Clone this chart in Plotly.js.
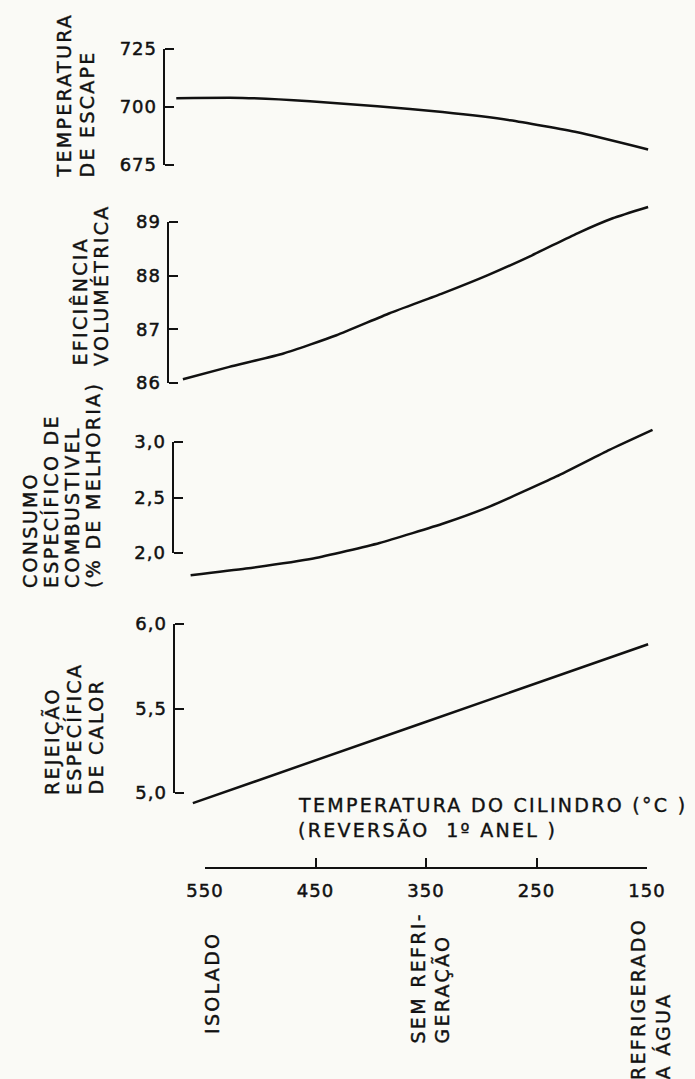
<!DOCTYPE html>
<html><head><meta charset="utf-8">
<script src="https://cdn.plot.ly/plotly-3.0.1.min.js"></script>
<style>
html,body{margin:0;padding:0;background:#fafaf6;}
.annotation-text{letter-spacing:2.3px;stroke:#111;stroke-width:0.4px;}
[class*="axislayer"] text{letter-spacing:1px;stroke:#111;stroke-width:0.5px;}
</style></head><body><div id="chart" style="width:695px;height:1079px;"></div>
<script>
// Temperatura do cilindro (°C) vs. each quantity
const tempEscapeT = [576, 516, 455, 394, 335, 274, 213, 149];
const tempEscapeV = [703.8, 703.9, 702.5, 700.3, 697.8, 694.3, 689.1, 681.7];
const eficT = [570, 528, 479, 431, 383, 335, 294, 254, 213, 181, 149];
const eficV = [86.07, 86.30, 86.55, 86.89, 87.30, 87.67, 88.01, 88.38, 88.79, 89.07, 89.28];
const consumoT = [563, 513, 452, 392, 333, 292, 232, 184, 145];
const consumoV = [1.80, 1.86, 1.95, 2.09, 2.27, 2.42, 2.69, 2.93, 3.11];
const rejeicaoT = [561, 355, 149];
const rejeicaoV = [4.94, 5.41, 5.88];

const xTickVals = [550, 450, 350, 250, 150];
const xTickText = ['550', '450', '350', '250', '150'];
const yTickVals1 = [675, 700, 725];
const yTickText1 = ['675', '700', '725'];
const yTickVals2 = [86, 87, 88, 89];
const yTickText2 = ['86', '87', '88', '89'];
const yTickVals3 = [2.0, 2.5, 3.0];
const yTickText3 = ['2,0', '2,5', '3,0'];
const yTickVals4 = [5.0, 5.5, 6.0];
const yTickText4 = ['5,0', '5,5', '6,0'];

const titleLines1 = ['TEMPERATURA', 'DE ESCAPE'];
const titleLines2 = ['EFICIÊNCIA', 'VOLUMÉTRICA'];
const titleLines3 = ['CONSUMO', 'ESPECÍFICO DE', 'COMBUSTIVEL', '(% DE MELHORIA)'];
const titleLines4 = ['REJEIÇÃO', 'ESPECÍFICA', 'DE CALOR'];
const xTitleLines = ['TEMPERATURA DO CILINDRO (°C )', '(REVERSÃO  1º ANEL )'];
const condIsolado = ['ISOLADO'];
const condSem = ['SEM REFRI-', 'GERAÇÃO'];
const condAgua = ['REFRIGERADO', 'A ÁGUA'];

const W = 695, H = 1079;
const px = v => v / W;
const py = v => 1 - v / H;
const INK = '#111';
const FONT = 'DejaVu Sans';

const panels = [
  {vals: yTickVals1, text: yTickText1, range: [675, 725], bottom: 165, top: 49, xpos: 163, T: tempEscapeT, V: tempEscapeV},
  {vals: yTickVals2, text: yTickText2, range: [86, 89], bottom: 383, top: 222, xpos: 167, T: eficT, V: eficV},
  {vals: yTickVals3, text: yTickText3, range: [2.0, 3.0], bottom: 553, top: 442, xpos: 172, T: consumoT, V: consumoV},
  {vals: yTickVals4, text: yTickText4, range: [5.0, 6.0], bottom: 793, top: 624, xpos: 173, T: rejeicaoT, V: rejeicaoV}
];

const layout = {
  width: W, height: H,
  margin: {l: 0, r: 0, t: 0, b: 0},
  paper_bgcolor: '#fafaf6', plot_bgcolor: 'rgba(0,0,0,0)',
  showlegend: false,
  font: {family: FONT, size: 18, color: INK},
  annotations: []
};

const traces = [];

// visible x axis (550..150), anchored to a hidden helper y axis placed at the axis line height
const xL = 205, xR = 647, xs = (xR - xL) / 400;
const xLineY = 867;
layout.xaxis = {
  domain: [px(xL), px(xR)], range: [550, 150], anchor: 'y9', side: 'bottom',
  showline: true, linewidth: 2, linecolor: INK, ticks: 'inside', ticklen: 9, tickwidth: 2, tickcolor: INK,
  tickmode: 'array', tickvals: xTickVals, ticktext: xTickText, showgrid: false, zeroline: false,
  tickfont: {family: FONT, size: 18, color: INK}, ticklabelstandoff: 6
};
layout.yaxis9 = {domain: [py(xLineY), py(xLineY - 20)], range: [0, 1], visible: false, anchor: 'x'};
traces.push({type: 'scatter', mode: 'lines', x: [], y: [], xaxis: 'x', yaxis: 'y9', hoverinfo: 'skip'});

// data x axis on the same scale, wider so curves can start left of 550
const dL = 160, dR = 670;
layout.xaxis2 = {
  domain: [px(dL), px(dR)], range: [550 + (xL - dL) / xs, 550 - (dR - xL) / xs],
  visible: false, anchor: 'y5'
};

panels.forEach((p, i) => {
  const visName = i === 0 ? 'y' : 'y' + (i + 1);
  const vis = 'yaxis' + (i === 0 ? '' : (i + 1));
  const helperX = 'x' + (i + 3);
  const s = (p.bottom - p.top) / (p.range[1] - p.range[0]);
  const ext = 40;
  // tick axis: line + ticks pointing right (helper x axis ends at the line)
  layout['xaxis' + (i + 3)] = {domain: [px(p.xpos - 60), px(p.xpos)], range: [0, 1], visible: false, anchor: visName};
  layout[vis] = {
    domain: [py(p.bottom), py(p.top)], range: p.range, anchor: helperX, side: 'right',
    showline: true, linewidth: 2, linecolor: INK, ticks: 'outside', ticklen: 9, tickwidth: 2, tickcolor: INK,
    showticklabels: false,
    tickmode: 'array', tickvals: p.vals, showgrid: false, zeroline: false
  };
  traces.push({type: 'scatter', mode: 'lines', x: [], y: [], xaxis: helperX, yaxis: visName, hoverinfo: 'skip'});
  // label axis: same scale, labels only, left of the line
  const labName = 'y' + (i + 10);
  layout['yaxis' + (i + 10)] = {
    domain: [py(p.bottom), py(p.top)], range: p.range, anchor: 'free', position: px(p.xpos), side: 'left',
    showline: false, ticks: '', showgrid: false, zeroline: false,
    tickmode: 'array', tickvals: p.vals, ticktext: p.text,
    tickfont: {family: FONT, size: 18, color: INK}, ticklabelstandoff: 6
  };
  traces.push({type: 'scatter', mode: 'lines', x: [], y: [], xaxis: 'x', yaxis: labName, hoverinfo: 'skip'});
  // data axis: same scale, extended so curves may pass the axis ends
  layout['yaxis' + (i + 5)] = {
    domain: [py(p.bottom + ext), py(p.top - ext)],
    range: [p.range[0] - ext / s, p.range[1] + ext / s],
    visible: false, anchor: 'x2'
  };
  traces.push({
    type: 'scatter', mode: 'lines', x: p.T, y: p.V, xaxis: 'x2', yaxis: 'y' + (i + 5),
    line: {color: INK, width: 2.5, shape: 'spline', smoothing: 0.5}, hoverinfo: 'skip'
  });
});

function vText(lines, xs0, bottom) {
  lines.forEach((t, k) => {
    layout.annotations.push({
      text: t, xref: 'paper', yref: 'paper', x: px(xs0[k]), y: py(bottom),
      xanchor: 'center', yanchor: 'bottom', textangle: -90, showarrow: false,
      font: {family: FONT, size: 19, color: INK}
    });
  });
}
vText(titleLines1, [63, 86], 180);
vText(titleLines2, [80, 101], 368);
vText(titleLines3, [30, 51, 72, 93], 590);
vText(titleLines4, [52, 74, 95], 797);
vText(condIsolado, [212], 1036);
vText(condSem, [417, 441], 1046);
vText(condAgua, [638, 662], 1082);

xTitleLines.forEach((t, k) => {
  layout.annotations.push({
    text: t, xref: 'paper', yref: 'paper', x: px(296), y: py([805, 830][k]),
    xanchor: 'left', yanchor: 'middle', showarrow: false,
    font: {family: FONT, size: 19, color: INK}
  });
});

Plotly.newPlot('chart', traces, layout, {staticPlot: true, displayModeBar: false});
</script></body></html>
